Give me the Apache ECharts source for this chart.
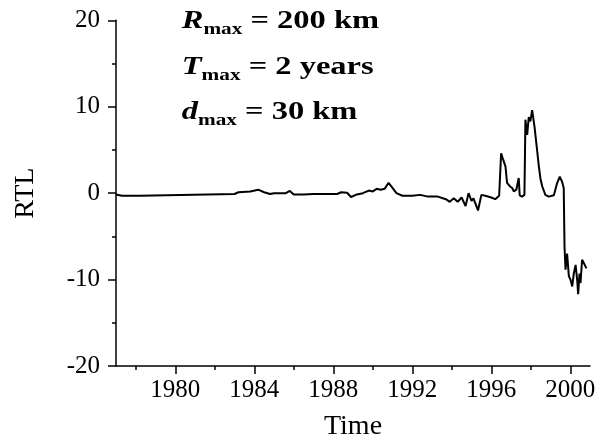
<!DOCTYPE html>
<html>
<head>
<meta charset="utf-8">
<script src="https://cdn.jsdelivr.net/npm/echarts@6/dist/echarts.min.js"></script>
<style>
html, body { margin: 0; padding: 0; background: #fff; }
#main { width: 600px; height: 446px; }
</style>
</head>
<body>
<div id="main"></div>
<script>
// RTL time series
var years = [1977.0, 1977.3, 1978.2, 1978.3, 1983.0, 1983.1, 1983.2, 1983.8, 1984.2, 1984.5,
    1984.8, 1985.0, 1985.6, 1985.8, 1986.0, 1986.5, 1987.0, 1988.2, 1988.4, 1988.7,
    1988.9, 1989.2, 1989.5, 1989.8, 1990.0, 1990.2, 1990.4, 1990.6, 1990.8, 1991.0,
    1991.2, 1991.5, 1992.0, 1992.4, 1992.8, 1993.3, 1993.7, 1993.9, 1994.1, 1994.3,
    1994.5, 1994.7, 1994.85, 1995.0, 1995.1, 1995.33, 1995.5, 1995.7, 1996.0, 1996.2,
    1996.4, 1996.48, 1996.5, 1996.6, 1996.72, 1996.8, 1996.94, 1997.06, 1997.14, 1997.27,
    1997.39, 1997.44, 1997.56, 1997.68, 1997.73, 1997.82, 1997.9, 1997.98, 1998.07, 1998.15,
    1998.19, 1998.32, 1998.41, 1998.49, 1998.58, 1998.74, 1998.91, 1999.17, 1999.34, 1999.47,
    1999.59, 1999.67, 1999.71, 1999.76, 1999.84, 1999.93, 2000.01, 2000.1, 2000.18, 2000.27,
    2000.35, 2000.4, 2000.47, 2000.52, 2000.6, 2000.69, 2000.82];
var rtl = [-0.15, -0.3, -0.3, -0.1, -0.1, -0.3, 0.1, 0.2, 0.4, 0.1,
    -0.1, 0.0, 0.0, 0.25, -0.15, -0.15, -0.1, -0.1, 0.1, 0.05,
    -0.45, -0.15, 0.0, 0.3, 0.2, 0.5, 0.4, 0.5, 1.2, 0.6,
    0.0, -0.3, -0.3, -0.2, -0.4, -0.4, -0.7, -1.0, -0.6, -1.0,
    -0.5, -1.5, 0.0, -0.9, -0.6, -2.0, -0.2, -0.3, -0.5, -0.7,
    -0.3, -0.2, 4.6, 3.9, 3.1, 1.2, 0.8, 0.6, 0.2, 0.4,
    1.75, -0.25, -0.4, -0.2, 8.5, 6.75, 8.8, 8.3, 9.6, 9.8,
    7.7, 5.0, 3.1, 1.7, 0.8, -0.2, -0.4, -0.25, 1.2, 1.9,
    1.3, 0.6, -6.2, -8.85, -7.0, -9.6, -10.0, -10.8, -9.3, -8.3,
    -10.0, -11.7, -9.3, -10.4, -7.7, -8.1, -8.7];

var xMajor = [1980, 1984, 1988, 1992, 1996, 2000];
var xMinor = [1978, 1982, 1986, 1990, 1994, 1998];

var points = [];
for (var i = 0; i < years.length; i++) {
    points.push([years[i], rtl[i]]);
}

var serif = 'Liberation Serif';

function noteLine(sym, rest, top) {
    return {
        type: 'text',
        x: 181.7,
        y: top,
        scaleX: 1.25,
        style: {
            x: 0,
            y: 0,
            text: '{m|' + sym + '}{s|max}{n|' + rest + '}',
            rich: {
                m: { fontFamily: serif, fontSize: 26, fontWeight: 'bold', fontStyle: 'italic', lineHeight: 30, verticalAlign: 'top', fill: '#000' },
                s: { fontFamily: serif, fontSize: 17, fontWeight: 'bold', lineHeight: 17, verticalAlign: 'bottom', fill: '#000' },
                n: { fontFamily: serif, fontSize: 26, fontWeight: 'bold', lineHeight: 30, verticalAlign: 'top', fill: '#000' }
            }
        }
    };
}

var chart = echarts.init(document.getElementById('main'));
var option = {
    animation: false,
    backgroundColor: '#fff',
    grid: {
        left: 116,
        top: 20.3,
        right: 10,
        bottom: 79.5
    },
    xAxis: [
        {
            type: 'value',
            min: 1977,
            max: 2001,
            name: 'Time',
            nameLocation: 'middle',
            nameGap: 47,
            nameTextStyle: { fontFamily: serif, fontSize: 28, color: '#000' },
            splitLine: { show: false },
            axisLine: { onZero: false, lineStyle: { color: '#000', width: 1.5 } },
            axisTick: { customValues: xMajor, length: 8, lineStyle: { color: '#000', width: 1.5 } },
            axisLabel: {
                customValues: xMajor,
                fontFamily: serif,
                fontSize: 25,
                color: '#000',
                margin: 12,
                formatter: function (v) { return String(v); }
            }
        },
        {
            type: 'value',
            min: 1977,
            max: 2001,
            position: 'bottom',
            splitLine: { show: false },
            axisLine: { show: false, onZero: false },
            axisTick: { customValues: xMinor, length: 4, lineStyle: { color: '#000', width: 1.5 } },
            axisLabel: { show: false }
        }
    ],
    yAxis: {
        type: 'value',
        min: -20,
        max: 20,
        interval: 10,
        name: 'RTL',
        nameLocation: 'middle',
        nameGap: 76,
        nameTextStyle: { fontFamily: serif, fontSize: 28, color: '#000' },
        splitLine: { show: false },
        axisLine: { show: true, lineStyle: { color: '#000', width: 1.5 } },
        axisTick: { length: 8, lineStyle: { color: '#000', width: 1.5 } },
        minorTick: { show: true, splitNumber: 2, length: 4, lineStyle: { color: '#000', width: 1.5 } },
        axisLabel: { fontFamily: serif, fontSize: 25, color: '#000', margin: 16 }
    },
    graphic: [
        noteLine('R', ' = 200 km', 7.9),
        noteLine('T', ' = 2 years', 54.5),
        noteLine('d', ' = 30 km', 99.5)
    ],
    series: [
        {
            type: 'line',
            data: points,
            showSymbol: false,
            lineStyle: { color: '#000', width: 2 },
            itemStyle: { color: '#000' }
        }
    ]
};
chart.setOption(option);
</script>
</body>
</html>
